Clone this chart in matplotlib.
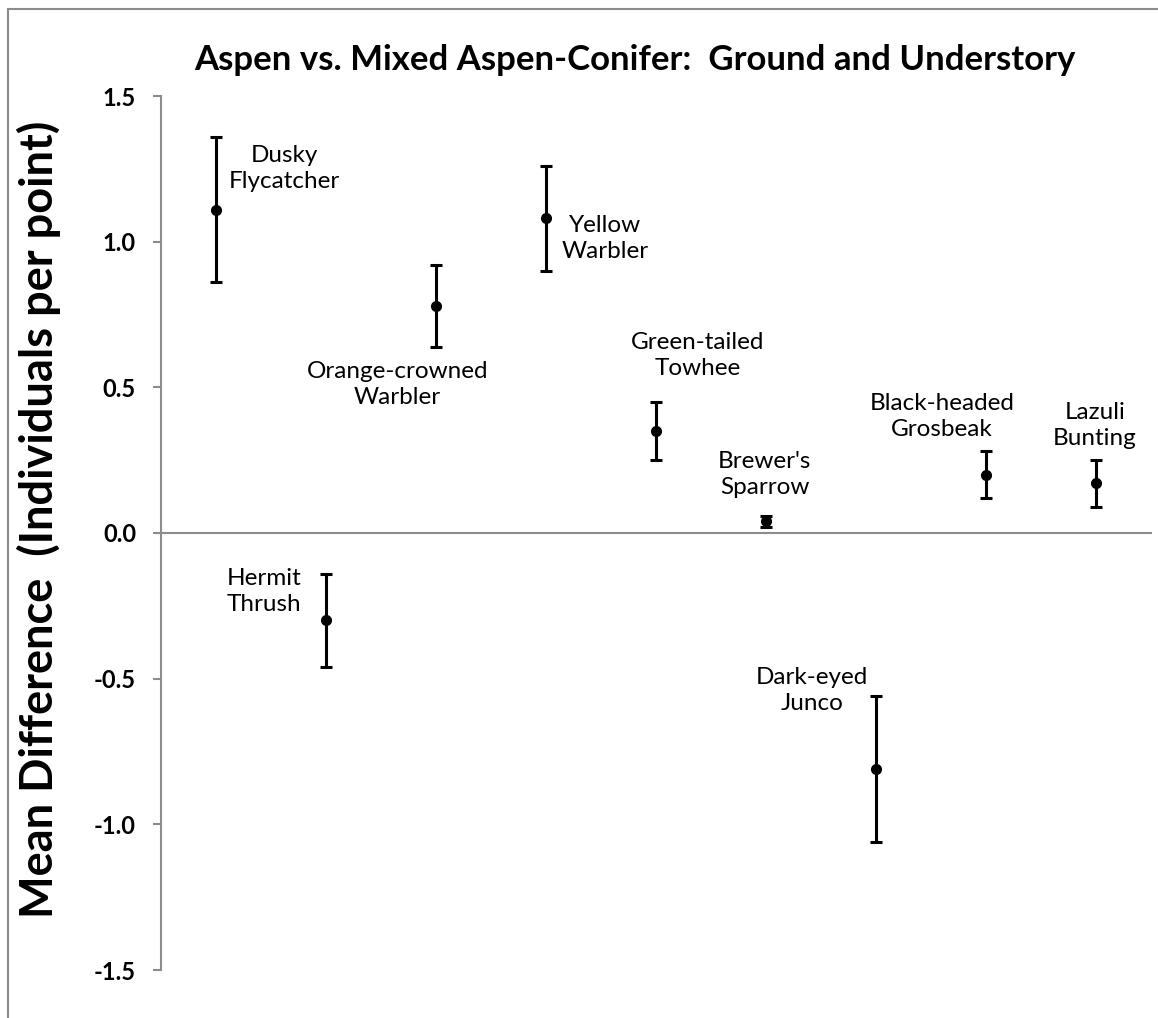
import numpy as np
import matplotlib.pyplot as plt
from matplotlib.lines import Line2D

plt.rcParams['font.family'] = ['Lato', 'DejaVu Sans']

species = ["Dusky\nFlycatcher", "Hermit\nThrush", "Orange-crowned\nWarbler",
           "Yellow\nWarbler", "Green-tailed\nTowhee", "Brewer's\nSparrow",
           "Dark-eyed\nJunco", "Black-headed\nGrosbeak", "Lazuli\nBunting"]
mean_diff = [1.11, -0.30, 0.78, 1.08, 0.35, 0.04, -0.81, 0.20, 0.17]
err = [0.25, 0.16, 0.14, 0.18, 0.10, 0.02, 0.25, 0.08, 0.08]

# where each species name sits (data coords)
label_x = [1.62, 1.44, 2.65, 4.54, 5.38, 5.99, 6.42, 7.60, 8.99]
label_y = [1.25, -0.20, 0.51, 1.01, 0.61, 0.20, -0.54, 0.40, 0.37]

fig = plt.figure(figsize=(11.58, 10.18), dpi=100)
ax = fig.add_axes([161 / 1158, 1 - 970 / 1018, 990 / 1158, 874 / 1018])

x = np.arange(1, len(mean_diff) + 1)
ax.errorbar(x, mean_diff, yerr=err, fmt='o', color='black', ms=7,
            elinewidth=2.2, capsize=4.5, capthick=2.2)

for lx, ly, name in zip(label_x, label_y, species):
    ax.text(lx, ly, name, ha='center', va='center', fontsize=17.5,
            linespacing=1.3)

ax.set_xlim(0.5, len(mean_diff) + 0.5)
ax.set_ylim(-1.5, 1.5)
ax.set_yticks([-1.5, -1.0, -0.5, 0.0, 0.5, 1.0, 1.5])
ax.set_yticklabels([f"{v:.1f}" for v in ax.get_yticks()],
                   fontsize=17, fontweight='bold')
ax.set_xticks([])

grey = '#8c8c8c'
for s in ['top', 'right']:
    ax.spines[s].set_visible(False)
ax.spines['left'].set_color(grey)
ax.spines['left'].set_linewidth(1.5)
ax.spines['bottom'].set_position(('data', 0))
ax.spines['bottom'].set_color(grey)
ax.spines['bottom'].set_linewidth(1.5)
ax.tick_params(axis='y', direction='out', length=6, width=1.5, color=grey,
               pad=12)

ax.set_ylabel("Mean Difference  (Individuals per point)", fontsize=32.5,
              fontweight='bold')
ax.yaxis.set_label_coords(-100 / 990, 0.516)

fig.text(0.548, 1 - 60 / 1018, "Aspen vs. Mixed Aspen-Conifer:  Ground and Understory",
         ha='center', va='center', fontsize=25, fontweight='bold')

# chart frame
fig.add_artist(Line2D([8 / 1158, 8 / 1158], [0, 1 - 9 / 1018], color=grey, lw=1.5))
fig.add_artist(Line2D([8 / 1158, 1], [1 - 9 / 1018, 1 - 9 / 1018], color=grey, lw=1.5))

fig.savefig("out.png", dpi=100, facecolor='white')
